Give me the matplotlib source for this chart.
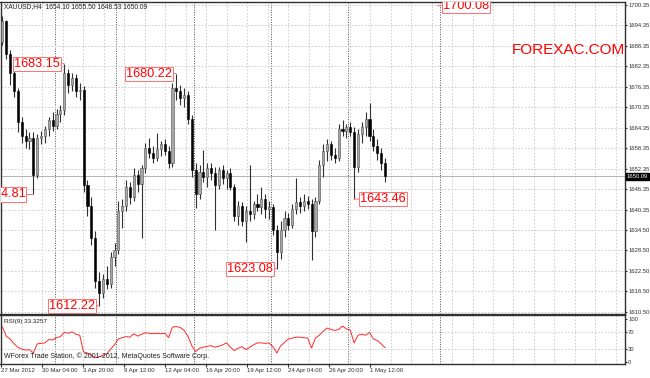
import numpy as np
import matplotlib
matplotlib.use("Agg")
import matplotlib.pyplot as plt

plt.rcParams["font.family"] = ["Liberation Sans", "DejaVu Sans"]

# ---------------------------------------------------------------------------
# XAUUSD H4 bars, one entry per bar
opens = [1689.5, 1695.5, 1686.0, 1680.5, 1675.0, 1666.0, 1662.0, 1660.5, 1661.5, 1650.5,
         1661.5, 1662.0, 1664.0, 1666.5, 1665.0, 1668.5, 1669.5, 1680.5, 1677.0, 1679.0,
         1675.0, 1675.5, 1647.5, 1641.5, 1632.0, 1619.5, 1616.0, 1620.0, 1618.5, 1626.5,
         1628.5, 1640.0, 1641.5, 1647.0, 1644.0, 1650.5, 1648.0, 1652.5, 1658.5, 1657.0,
         1655.5, 1658.0, 1659.5, 1657.5, 1654.0, 1676.0, 1675.0, 1673.0, 1674.0, 1667.0,
         1652.0, 1645.0, 1651.5, 1650.0, 1652.5, 1651.0, 1647.5, 1652.0, 1649.5, 1651.0,
         1647.0, 1638.5, 1641.5, 1637.0, 1640.0, 1639.0, 1642.0, 1641.0, 1643.5, 1640.5,
         1641.0, 1634.5, 1628.0, 1634.5, 1638.0, 1636.0, 1640.5, 1642.5, 1641.5, 1643.0,
         1642.0, 1634.0, 1643.0, 1653.5, 1657.5, 1659.5, 1656.5, 1655.5, 1664.0, 1663.5,
         1664.5, 1663.0, 1653.0, 1662.5, 1664.5, 1667.0, 1662.0, 1659.0, 1657.0, 1654.10]
highs = [1697.2, 1696.0, 1687.0, 1682.0, 1676.0, 1667.5, 1664.0, 1663.0, 1663.0, 1662.5,
         1663.5, 1665.0, 1667.5, 1669.0, 1670.0, 1671.0, 1683.15, 1681.5, 1680.5, 1680.0,
         1677.5, 1676.5, 1649.0, 1644.0, 1634.0, 1622.0, 1621.5, 1624.0, 1628.0, 1630.5,
         1643.0, 1643.5, 1649.0, 1648.5, 1652.5, 1652.0, 1653.5, 1660.0, 1661.5, 1659.0,
         1662.8, 1660.5, 1661.0, 1659.0, 1677.5, 1680.22, 1677.0, 1676.0, 1675.0, 1668.0,
         1654.0, 1653.5, 1657.8, 1654.0, 1654.0, 1653.0, 1653.0, 1653.5, 1652.0, 1652.5,
         1648.0, 1643.0, 1642.5, 1641.5, 1653.4, 1643.0, 1645.0, 1647.0, 1645.0, 1643.0,
         1642.0, 1636.0, 1637.0, 1640.0, 1639.5, 1642.0, 1649.6, 1644.0, 1645.0, 1644.5,
         1643.5, 1644.0, 1655.0, 1659.5, 1661.0, 1660.5, 1658.5, 1665.5, 1666.5, 1665.5,
         1666.0, 1664.5, 1664.0, 1666.0, 1669.0, 1671.6, 1664.0, 1661.0, 1658.5, 1655.50]
lows = [1688.5, 1684.5, 1677.0, 1673.5, 1663.0, 1660.0, 1658.5, 1658.0, 1644.81, 1649.5,
        1659.5, 1660.0, 1662.0, 1663.5, 1664.0, 1666.0, 1668.0, 1674.5, 1675.0, 1673.5,
        1672.5, 1645.5, 1638.5, 1630.0, 1617.5, 1612.22, 1614.5, 1617.0, 1617.5, 1624.0,
        1627.5, 1635.0, 1640.0, 1642.0, 1643.0, 1645.5, 1632.0, 1651.0, 1655.5, 1654.0,
        1654.5, 1656.0, 1656.5, 1652.5, 1653.0, 1672.5, 1671.0, 1670.5, 1665.5, 1650.0,
        1640.8, 1643.5, 1648.5, 1647.0, 1649.0, 1634.3, 1646.5, 1648.0, 1646.5, 1646.0,
        1637.0, 1636.0, 1635.5, 1631.0, 1637.0, 1637.5, 1640.0, 1639.0, 1638.0, 1637.5,
        1633.0, 1623.08, 1626.0, 1632.5, 1634.5, 1635.0, 1639.0, 1639.5, 1640.0, 1640.5,
        1625.5, 1632.5, 1642.0, 1650.0, 1654.5, 1655.0, 1654.0, 1654.5, 1662.0, 1661.5,
        1662.0, 1643.46, 1651.5, 1660.0, 1662.0, 1660.5, 1657.5, 1655.0, 1652.0, 1648.53]
closes = [1695.5, 1686.0, 1680.5, 1675.0, 1666.0, 1662.0, 1660.5, 1661.5, 1650.5, 1661.5,
          1662.0, 1664.0, 1666.5, 1665.0, 1668.5, 1669.5, 1680.5, 1677.0, 1679.0, 1675.0,
          1675.5, 1647.5, 1641.5, 1632.0, 1619.5, 1616.0, 1620.0, 1618.5, 1626.5, 1628.5,
          1640.0, 1641.5, 1647.0, 1644.0, 1650.5, 1648.0, 1652.5, 1658.5, 1657.0, 1655.5,
          1658.0, 1659.5, 1657.5, 1654.0, 1676.0, 1675.0, 1673.0, 1674.0, 1667.0, 1652.0,
          1645.0, 1651.5, 1650.0, 1652.5, 1651.0, 1647.5, 1652.0, 1649.5, 1651.0, 1647.0,
          1638.5, 1641.5, 1637.0, 1640.0, 1639.0, 1642.0, 1641.0, 1643.5, 1640.5, 1641.0,
          1634.5, 1628.0, 1634.5, 1638.0, 1636.0, 1640.5, 1642.5, 1641.5, 1643.0, 1642.0,
          1634.0, 1643.0, 1653.5, 1657.5, 1659.5, 1656.5, 1655.5, 1664.0, 1663.5, 1664.5,
          1663.0, 1653.0, 1662.5, 1664.5, 1667.0, 1662.0, 1659.0, 1657.0, 1654.10, 1650.09]

# RSI(9), one value per bar
rsi = [81.3, 60.1, 53.4, 42.2, 34.4, 30.0, 27.7, 28.8, 21.0, 42.2,
       43.3, 44.5, 52.3, 51.2, 56.7, 59.0, 69.0, 66.8, 70.1, 64.5,
       62.3, 23.3, 21.0, 15.4, 9.9, 12.1, 15.4, 18.8, 30.0, 40.0,
       53.4, 56.7, 59.0, 57.8, 65.7, 60.1, 64.5, 67.9, 66.8, 65.7,
       66.8, 65.7, 66.8, 56.7, 81.3, 82.4, 80.2, 73.5, 60.1, 37.8,
       24.4, 32.2, 34.4, 36.6, 37.8, 34.4, 36.6, 40.0, 44.5, 34.4,
       26.6, 32.2, 35.5, 28.8, 34.4, 40.0, 44.5, 44.5, 43.3, 44.5,
       35.5, 21.0, 37.8, 45.6, 53.4, 55.6, 57.8, 57.8, 56.7, 55.6,
       32.2, 55.6, 62.3, 71.2, 79.0, 75.7, 73.5, 75.7, 83.5, 76.8,
       74.6, 44.5, 62.3, 64.5, 62.3, 69.0, 53.4, 50.0, 42.2, 33.3257]

# price axis labels (MT4 style)
price_ticks = [1700.35, 1694.35, 1688.35, 1682.35, 1676.35, 1670.35, 1664.35, 1658.35,
               1652.35, 1646.35, 1640.35, 1634.50, 1628.50, 1622.50, 1616.50, 1610.50]
rsi_ticks = [0, 30, 70, 100]

# time axis labels, spaced every label_step bars starting at first_label
date_labels = ["27 Mar 2012", "30 Mar 04:00", "3 Apr 20:00", "9 Apr 12:00", "12 Apr 04:00",
               "16 Apr 20:00", "19 Apr 12:00", "24 Apr 04:00", "26 Apr 20:00", "1 May 12:00"]
first_label = -0.26
label_step = 10.6

# weekly period separators (bar positions)
separators = [13.5, 29.5, 49.5, 69.4, 89.4, 113.2]

# high/low marks: (bar, price, text, offset in px)
marks = [(16, 1683.15, "1683.15", -4),
         (8, 1644.81, "1644.81", -8),
         (25, 1612.22, "1612.22", -4),
         (45, 1680.22, "1680.22", -4),
         (71, 1623.08, "1623.08", -4),
         (91, 1643.46, "1643.46", 6),
         (112.5, 1700.08, "1700.08", 6)]

header = "XAUUSD,H4  1654.10 1655.50 1648.53 1650.09"
last_price = closes[-1]

# ---------------------------------------------------------------------------
W, H = 650, 378
fig = plt.figure(figsize=(W / 100, H / 100), dpi=100)
fig.patch.set_facecolor("white")
ax = fig.add_axes([0.5 / W, (H - 314) / H, 624.5 / W, 312 / H])
ax2 = fig.add_axes([0.5 / W, (H - 364) / H, 624.5 / W, 49 / H])

xmax = 161.1
n_grid = 31
grid_x = [first_label + label_step / 2 * k for k in range(n_grid)]
x = np.arange(len(closes))

for a in (ax, ax2):
    a.set_xlim(-0.5, xmax)
    for gx in grid_x:
        a.axvline(gx, color="#c8c8c8", lw=0.6, ls=(0, (2, 2)), zorder=0)
    for sx in separators:
        a.axvline(sx, color="#505050", lw=0.7, ls=(0, (1, 1.5)), zorder=0)
    for s in a.spines.values():
        s.set_color("#303030")
        s.set_linewidth(1.0)

# main price panel
ax.set_ylim(1609.8, 1701.2)
for p in price_ticks:
    ax.axhline(p, color="#c8c8c8", lw=0.6, ls=(0, (2, 2)), zorder=0)
ax.axhline(last_price, color="#b4b4b4", lw=0.7, zorder=0)

o = np.array(opens)
c = np.array(closes)
up = c >= o
ax.vlines(x, lows, highs, color="#303030", lw=0.8, zorder=2)
body = np.where(np.abs(c - o) < 0.3, 0.3, c - o)
ax.bar(x[up], body[up], bottom=o[up], width=0.55, color="#a8a8a8",
       edgecolor="#505050", linewidth=0.4, zorder=3)
ax.bar(x[~up], body[~up], bottom=o[~up], width=0.55, color="black",
       edgecolor="black", linewidth=0.4, zorder=3)

ax.yaxis.tick_right()
ax.set_yticks(price_ticks)
ax.set_yticklabels([f"{p:.2f}" for p in price_ticks])
ax.tick_params(axis="y", labelsize=4.2, length=1.5, pad=0.8, colors="#303030")
ax.set_xticks([])

ax.text(1.003, last_price, f"{last_price:.2f}", transform=ax.get_yaxis_transform(),
        fontsize=4.2, color="white", va="center", ha="left",
        bbox=dict(boxstyle="square,pad=0.15", fc="black", ec="black"))

for bar, price, txt, dx in marks:
    ax.annotate(txt, xy=(bar, price), xytext=(dx, 0), textcoords="offset pixels",
                ha="right" if dx < 0 else "left", va="center",
                fontsize=9.2, color="#ff0000", clip_on=True, annotation_clip=False,
                bbox=dict(boxstyle="square,pad=0.08", fc="white", ec="#ff7070", lw=0.7),
                arrowprops=dict(arrowstyle="-", color="#ff7070", lw=0.7,
                                shrinkA=0, shrinkB=0))

ax.text(0.005, 0.985, header, transform=ax.transAxes, fontsize=4.8,
        color="#202020", va="center", ha="left")
ax.text(0.818, 0.845, "FOREXAC.COM", transform=ax.transAxes, fontsize=11,
        color="#ff0000", va="center", ha="left")

# RSI panel
ax2.set_ylim(-4.65, 109.3)
for lvl in (30, 70):
    ax2.axhline(lvl, color="#c8c8c8", lw=0.6, ls=(0, (2, 2)), zorder=0)
ax2.plot(x, rsi, color="#ff2a2a", lw=0.7, zorder=2)
ax2.yaxis.tick_right()
ax2.set_yticks(rsi_ticks)
ax2.set_yticklabels([str(t) for t in rsi_ticks])
ax2.tick_params(axis="y", labelsize=4.2, length=1.5, pad=0.8, colors="#303030")

date_x = [first_label + label_step * k for k in range(len(date_labels))]
ax2.set_xticks(date_x)
ax2.set_xticklabels(date_labels, ha="left")
ax2.tick_params(axis="x", labelsize=4.3, length=2, pad=1.0, colors="#303030")

ax2.text(0.005, 0.86, f"RSI(9) {rsi[-1]:.4f}", transform=ax2.transAxes, fontsize=4.6,
         color="#202020", va="center", ha="left")
ax2.text(0.005, 0.17, "WForex Trade Station, \u00a9 2001-2012, MetaQuotes Software Corp.",
         transform=ax2.transAxes, fontsize=5.0, color="#202020", va="center", ha="left")

fig.savefig("out.png", dpi=100, facecolor="white")
